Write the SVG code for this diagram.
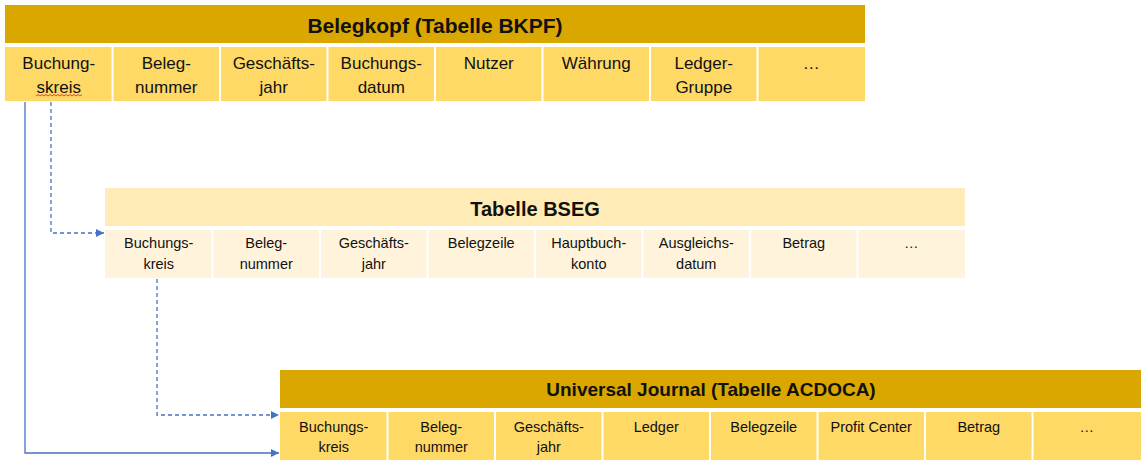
<svg xmlns="http://www.w3.org/2000/svg" width="1146" height="466" viewBox="0 0 1146 466">
<defs>
<style>
.hd{fill:#DAA600}
.hl{fill:#FFEBB5}
.c1{fill:#FFD966}
.c2{fill:#FFF4DB}
.ht{font-family:"Liberation Sans",Arial,sans-serif;font-weight:bold;font-size:20px;fill:#111;text-anchor:middle}
.t1{font-family:"Liberation Sans",Arial,sans-serif;font-size:17px;fill:#111;text-anchor:middle}
.t2{font-family:"Liberation Sans",Arial,sans-serif;font-size:14.5px;fill:#111;text-anchor:middle}
.ln{fill:none;stroke:#4472C4;stroke-width:1.3}
.dash{stroke-dasharray:4 3}
</style>
<marker id="ah" viewBox="0 0 10 10" refX="10" refY="5" markerWidth="8" markerHeight="8" markerUnits="userSpaceOnUse" orient="auto">
<path d="M0,0 L10,5 L0,10 z" fill="#4472C4"/>
</marker>
</defs>
<rect width="1146" height="466" fill="#fff"/>

<g id="bkpf">
<rect class="hd" x="5" y="5" width="860" height="38"/>
<text class="ht" x="435" y="33" style="font-size:21px">Belegkopf (Tabelle BKPF)</text>
<rect class="c1" x="5" y="47" width="106.5" height="54"/>
<rect class="c1" x="113.5" y="47" width="105.5" height="54"/>
<rect class="c1" x="221" y="47" width="105.5" height="54"/>
<rect class="c1" x="328.5" y="47" width="105.5" height="54"/>
<rect class="c1" x="436" y="47" width="105.5" height="54"/>
<rect class="c1" x="543.5" y="47" width="105.5" height="54"/>
<rect class="c1" x="651" y="47" width="105.5" height="54"/>
<rect class="c1" x="758.5" y="47" width="106.5" height="54"/>
<text class="t1" x="58.75" y="69">Buchung-</text>
<text class="t1" x="58.75" y="93">skreis</text>
<path d="M36,96 l2,-1.5 l2,1.5 l2,-1.5 l2,1.5 l2,-1.5 l2,1.5 l2,-1.5 l2,1.5 l2,-1.5 l2,1.5 l2,-1.5 l2,1.5 l2,-1.5 l2,1.5 l2,-1.5 l2,1.5 l2,-1.5 l2,1.5 l2,-1.5 l2,1.5 l2,-1.5 l2,1.5 l2,-1.5" fill="none" stroke="#E03030" stroke-width="0.9"/>
<text class="t1" x="166.25" y="69">Beleg-</text>
<text class="t1" x="166.25" y="93">nummer</text>
<text class="t1" x="273.75" y="69">Geschäfts-</text>
<text class="t1" x="273.75" y="93">jahr</text>
<text class="t1" x="381.25" y="69">Buchungs-</text>
<text class="t1" x="381.25" y="93">datum</text>
<text class="t1" x="488.75" y="69">Nutzer</text>
<text class="t1" x="596.25" y="69">Währung</text>
<text class="t1" x="703.75" y="69">Ledger-</text>
<text class="t1" x="703.75" y="93">Gruppe</text>
<text class="t1" x="811.25" y="69">…</text>
</g>

<g id="bseg">
<rect class="hl" x="105" y="188" width="860" height="38"/>
<text class="ht" x="535" y="216">Tabelle BSEG</text>
<rect class="c2" x="105" y="230" width="106.5" height="48"/>
<rect class="c2" x="213.5" y="230" width="105.5" height="48"/>
<rect class="c2" x="321" y="230" width="105.5" height="48"/>
<rect class="c2" x="428.5" y="230" width="105.5" height="48"/>
<rect class="c2" x="536" y="230" width="105.5" height="48"/>
<rect class="c2" x="643.5" y="230" width="105.5" height="48"/>
<rect class="c2" x="751" y="230" width="105.5" height="48"/>
<rect class="c2" x="858.5" y="230" width="106.5" height="48"/>
<text class="t2" x="158.75" y="248">Buchungs-</text>
<text class="t2" x="158.75" y="269">kreis</text>
<text class="t2" x="266.25" y="248">Beleg-</text>
<text class="t2" x="266.25" y="269">nummer</text>
<text class="t2" x="373.75" y="248">Geschäfts-</text>
<text class="t2" x="373.75" y="269">jahr</text>
<text class="t2" x="481.25" y="248">Belegzeile</text>
<text class="t2" x="588.75" y="248">Hauptbuch-</text>
<text class="t2" x="588.75" y="269">konto</text>
<text class="t2" x="696.25" y="248">Ausgleichs-</text>
<text class="t2" x="696.25" y="269">datum</text>
<text class="t2" x="803.75" y="248">Betrag</text>
<text class="t2" x="911.25" y="248">…</text>
</g>

<g id="acdoca">
<rect class="hd" x="280" y="370" width="861" height="38"/>
<text class="ht" x="711" y="396" style="font-size:19px">Universal Journal (Tabelle ACDOCA)</text>
<rect class="c1" x="280" y="412" width="106.5" height="48"/>
<rect class="c1" x="388.5" y="412" width="105.5" height="48"/>
<rect class="c1" x="496" y="412" width="105.5" height="48"/>
<rect class="c1" x="603.5" y="412" width="105.5" height="48"/>
<rect class="c1" x="711" y="412" width="105.5" height="48"/>
<rect class="c1" x="818.5" y="412" width="105.5" height="48"/>
<rect class="c1" x="926" y="412" width="105.5" height="48"/>
<rect class="c1" x="1033.5" y="412" width="107.5" height="48"/>
<text class="t2" x="333.75" y="432">Buchungs-</text>
<text class="t2" x="333.75" y="452">kreis</text>
<text class="t2" x="441.25" y="432">Beleg-</text>
<text class="t2" x="441.25" y="452">nummer</text>
<text class="t2" x="548.75" y="432">Geschäfts-</text>
<text class="t2" x="548.75" y="452">jahr</text>
<text class="t2" x="656.25" y="432">Ledger</text>
<text class="t2" x="763.75" y="432">Belegzeile</text>
<text class="t2" x="871.25" y="432">Profit Center</text>
<text class="t2" x="978.75" y="432">Betrag</text>
<text class="t2" x="1086.75" y="432">…</text>
</g>

<g id="connectors">
<path class="ln" d="M25,102 V453 H279" marker-end="url(#ah)"/>
<path class="ln dash" d="M51,102 V233 H104" marker-end="url(#ah)"/>
<path class="ln dash" d="M157,279 V415 H279" marker-end="url(#ah)"/>
</g>
</svg>
